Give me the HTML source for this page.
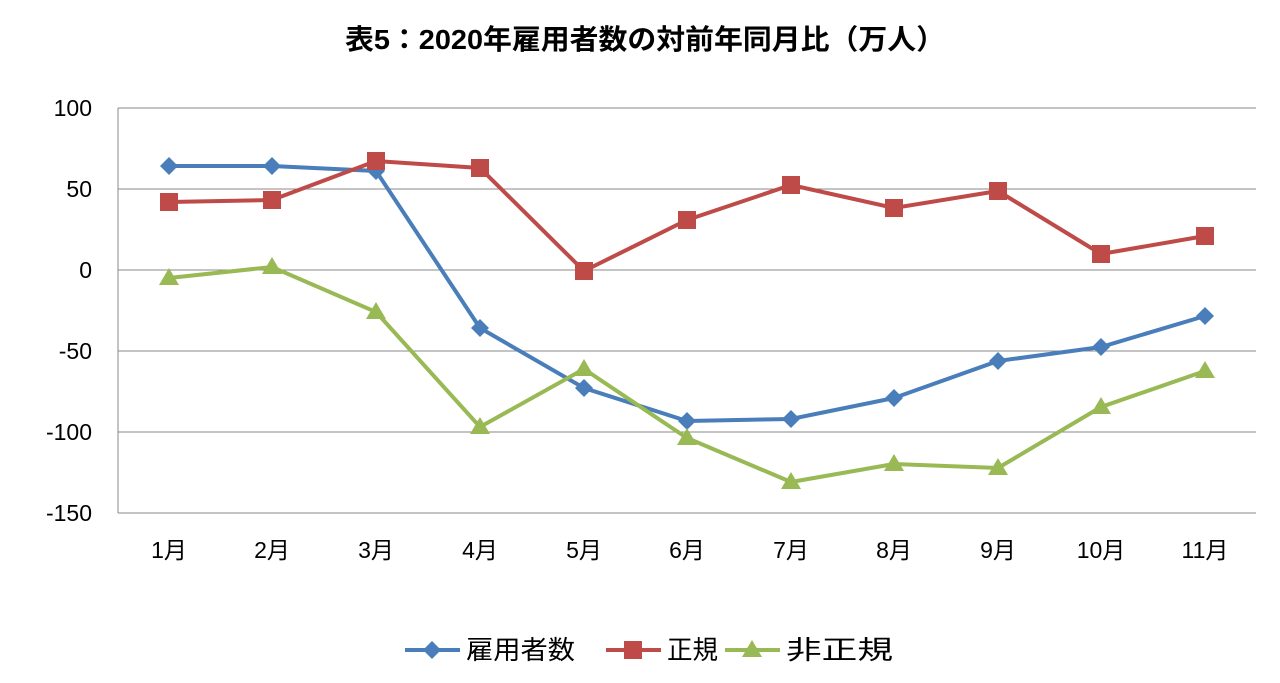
<!DOCTYPE html>
<html><head><meta charset="utf-8"><style>
body{margin:0;background:#fff;}
svg{display:block;font-family:"Liberation Sans","Noto Sans CJK JP",sans-serif;}
</style></head><body>
<svg width="1280" height="683" viewBox="0 0 1280 683">
<text x="645" y="49" text-anchor="middle" font-size="28" font-weight="bold" fill="#000" textLength="600" lengthAdjust="spacingAndGlyphs">表5：2020年雇用者数の対前年同月比（万人）</text>
<g stroke="#888" stroke-width="1">
<line x1="118" y1="108" x2="1256" y2="108"/>
<line x1="118" y1="189" x2="1256" y2="189"/>
<line x1="118" y1="270" x2="1256" y2="270"/>
<line x1="118" y1="351" x2="1256" y2="351"/>
<line x1="118" y1="432" x2="1256" y2="432"/>
<line x1="118" y1="513" x2="1256" y2="513"/>
<line x1="118" y1="108" x2="118" y2="513"/>
</g>
<g font-size="23" text-anchor="end" fill="#000">
<text x="92" y="116">100</text><text x="92" y="197">50</text><text x="92" y="278">0</text>
<text x="92" y="359">-50</text><text x="92" y="440">-100</text><text x="92" y="521">-150</text>
</g>
<g font-size="23" text-anchor="middle" fill="#000">
<text x="169" y="558">1月</text><text x="272" y="558">2月</text><text x="376" y="558">3月</text>
<text x="480" y="558">4月</text><text x="584" y="558">5月</text><text x="687" y="558">6月</text>
<text x="791" y="558">7月</text><text x="894" y="558">8月</text><text x="998" y="558">9月</text>
<text x="1101" y="558">10月</text><text x="1205" y="558">11月</text>
</g>
<polyline fill="none" stroke="#4a7ebb" stroke-width="4" points="169,166 272,166 376,171 480,328 584,388 687,421 791,419 894,398 998,361 1101,347 1205,316"/>
<polyline fill="none" stroke="#be4b48" stroke-width="4" points="169,202 272,200 376,161 480,168 584,271 687,220 791,185 894,208 998,191 1101,254 1205,236"/>
<polyline fill="none" stroke="#98b954" stroke-width="4" points="169,278 272,267 376,312 480,427 584,369 687,438 791,482 894,464 998,468 1101,407 1205,371"/>
<g fill="#4a7ebb">
<path d="M169,157l9,9l-9,9l-9,-9z"/><path d="M272,157l9,9l-9,9l-9,-9z"/><path d="M376,162l9,9l-9,9l-9,-9z"/>
<path d="M480,319l9,9l-9,9l-9,-9z"/><path d="M584,379l9,9l-9,9l-9,-9z"/><path d="M687,412l9,9l-9,9l-9,-9z"/>
<path d="M791,410l9,9l-9,9l-9,-9z"/><path d="M894,389l9,9l-9,9l-9,-9z"/><path d="M998,352l9,9l-9,9l-9,-9z"/>
<path d="M1101,338l9,9l-9,9l-9,-9z"/><path d="M1205,307l9,9l-9,9l-9,-9z"/>
</g>
<g fill="#be4b48">
<rect x="160" y="193" width="18" height="18"/><rect x="263" y="191" width="18" height="18"/><rect x="367" y="152" width="18" height="18"/>
<rect x="471" y="159" width="18" height="18"/><rect x="575" y="262" width="18" height="18"/><rect x="678" y="211" width="18" height="18"/>
<rect x="782" y="176" width="18" height="18"/><rect x="885" y="199" width="18" height="18"/><rect x="989" y="182" width="18" height="18"/>
<rect x="1092" y="245" width="18" height="18"/><rect x="1196" y="227" width="18" height="18"/>
</g>
<g fill="#98b954">
<path d="M169,268l10,17h-20z"/><path d="M272,257l10,17h-20z"/><path d="M376,302l10,17h-20z"/>
<path d="M480,417l10,17h-20z"/><path d="M584,359l10,17h-20z"/><path d="M687,428l10,17h-20z"/>
<path d="M791,472l10,17h-20z"/><path d="M894,454l10,17h-20z"/><path d="M998,458l10,17h-20z"/>
<path d="M1101,397l10,17h-20z"/><path d="M1205,361l10,17h-20z"/>
</g>
<line x1="405" y1="650" x2="460" y2="650" stroke="#4a7ebb" stroke-width="4"/>
<path d="M432,641l9,9l-9,9l-9,-9z" fill="#4a7ebb"/>
<text x="466" y="659" font-size="26" fill="#000" textLength="109" lengthAdjust="spacingAndGlyphs">雇用者数</text>
<line x1="606" y1="650" x2="661" y2="650" stroke="#be4b48" stroke-width="4"/>
<rect x="624" y="641" width="18" height="18" fill="#be4b48"/>
<text x="667" y="659" font-size="26" fill="#000" textLength="51" lengthAdjust="spacingAndGlyphs">正規</text>
<line x1="725" y1="650" x2="780" y2="650" stroke="#98b954" stroke-width="4"/>
<path d="M752,640l10,17h-20z" fill="#98b954"/>
<text x="786" y="659" font-size="26" fill="#000" textLength="107" lengthAdjust="spacingAndGlyphs">非正規</text>
</svg>
</body></html>
